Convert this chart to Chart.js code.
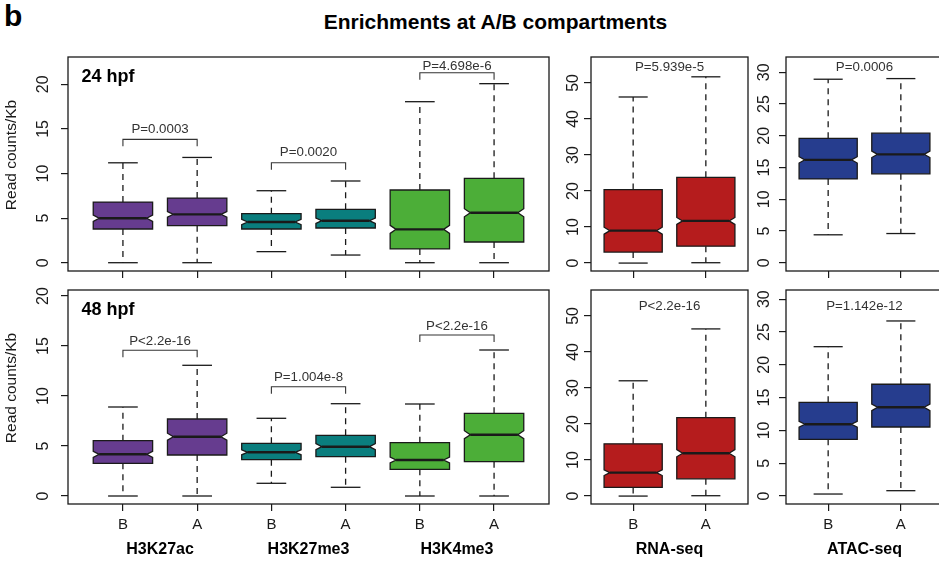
<!DOCTYPE html>
<html>
<head>
<meta charset="utf-8">
<script src="https://cdn.jsdelivr.net/npm/chart.js@4.4.0/dist/chart.umd.min.js"></script>
<style>
  html, body { margin: 0; padding: 0; background: #fff; overflow: hidden; width: 939px; height: 563px; position: relative; }
  canvas { position: absolute; }
  .txt { position: absolute; font-family: "Liberation Sans", Arial, Helvetica, sans-serif; font-weight: bold; color: #000; white-space: nowrap; }
</style>
</head>
<body>
<div class="txt" style="left:4px; top:1px; font-size:30px; line-height:30px;">b</div>
<div class="txt" style="left:0; width:991px; text-align:center; top:11px; font-size:21px; line-height:21px;">Enrichments at A/B compartments</div>

<canvas id="hist24"></canvas>
<canvas id="rna24"></canvas>
<canvas id="atac24"></canvas>
<canvas id="hist48"></canvas>
<canvas id="rna48"></canvas>
<canvas id="atac48"></canvas>

<script>
// ---- categories and tick labels ----
const compartments = ['B', 'A'];
const marks = ['H3K27ac', 'H3K27me3', 'H3K4me3'];
const rnaName = ['RNA-seq'];
const atacName = ['ATAC-seq'];
const histTicks = [0, 5, 10, 15, 20];
const rnaTicks = [0, 10, 20, 30, 40, 50];
const atacTicks = [0, 5, 10, 15, 20, 25, 30];

// ---- 24 hpf, histone marks (B, A for each mark) ----
const h24Low   = [0, 0, 1.24, 0.86, 0, 0];
const h24Q1    = [3.78, 4.15, 3.78, 3.89, 1.54, 2.32];
const h24Med   = [4.98, 5.42, 4.56, 4.71, 3.74, 5.60];
const h24Q3    = [6.80, 7.25, 5.50, 5.98, 8.15, 9.46];
const h24High  = [11.2, 11.8, 8.07, 9.16, 18.05, 20.07];
const h24Notch = [0.35, 0.32, 0.3, 0.3, 0.45, 0.45];
const h24P     = ['P=0.0003', 'P=0.0020', 'P=4.698e-6'];
const h24Bracket = [13.83, 11.2, 21.3];
const h24PY    = [14.96, 12.33, 22.05];

// ---- 48 hpf, histone marks ----
const h48Low   = [0, 0, 1.27, 0.87, 0, 0];
const h48Q1    = [3.27, 4.10, 3.63, 3.93, 2.67, 3.43];
const h48Med   = [4.17, 5.93, 4.37, 4.93, 3.60, 6.13];
const h48Q3    = [5.53, 7.70, 5.27, 6.07, 5.33, 8.27];
const h48High  = [8.90, 13.07, 7.77, 9.23, 9.20, 14.6];
const h48Notch = [0.3, 0.35, 0.25, 0.3, 0.3, 0.4];
const h48P     = ['P<2.2e-16', 'P=1.004e-8', 'P<2.2e-16'];
const h48Bracket = [14.57, 10.93, 16.1];
const h48PY    = [15.5, 11.87, 17.0];

// ---- RNA-seq ----
const rna24Low = [0, 0.1],   rna24Q1 = [3.06, 4.7], rna24Med = [9.0, 11.7], rna24Q3 = [20.4, 23.8], rna24High = [46.1, 51.7];
const rna24Notch = [0.95, 0.95];
const rna24P = ['P=5.939e-5'];
const rna24PY = [54.3];
const rna48Low = [0, 0.1],   rna48Q1 = [2.4, 4.8],  rna48Med = [6.5, 11.9], rna48Q3 = [14.5, 21.75], rna48High = [32.0, 46.4];
const rna48Notch = [0.8, 1.0];
const rna48P = ['P<2.2e-16'];
const rna48PY = [52.6];

// ---- ATAC-seq ----
const atac24Low = [4.4, 4.6],  atac24Q1 = [13.2, 14.0], atac24Med = [16.2, 17.07], atac24Q3 = [19.6, 20.4], atac24High = [28.9, 29.0];
const atac24Notch = [0.5, 0.5];
const atac24P = ['P=0.0006'];
const atac24PY = [30.8];
const atac48Low = [0.3, 0.81], atac48Q1 = [8.64, 10.52], atac48Med = [10.93, 13.52], atac48Q3 = [14.28, 17.03], atac48High = [22.76, 26.68];
const atac48Notch = [0.45, 0.5];
const atac48P = ['P=1.142e-12'];
const atac48PY = [28.86];

// ---- styling ----
const FONT = '"Liberation Sans", Arial, Helvetica, sans-serif';
Chart.defaults.font.family = FONT;
const PURPLE = '#663c8f', TEAL = '#0a7e7e', GREEN = '#4cae38', RED = '#b51c1d', BLUE = '#263d8e';
const INK = '#1a1a1a';

// notched box plots, p-value annotations and the panel frame
const boxPlotPlugin = {
  id: 'boxPlots',
  afterDraw(chart, args, o) {
    const { ctx, chartArea: a } = chart;
    const x = chart.scales.x, y = chart.scales.y;
    const st = o.stats;
    ctx.save();
    const seg = (x1, y1, x2, y2) => { ctx.beginPath(); ctx.moveTo(x1, y1); ctx.lineTo(x2, y2); ctx.stroke(); };

    st.med.forEach((m, i) => {
      const pos = i + 1;
      const cx = x.getPixelForValue(pos);
      const w = x.getPixelForValue(pos + 0.4) - cx;
      const cap = w * 0.5, nf = w * 0.8;
      const pLo = y.getPixelForValue(st.low[i]);
      const pQ1 = y.getPixelForValue(st.q1[i]);
      const pMed = y.getPixelForValue(m);
      const pQ3 = y.getPixelForValue(st.q3[i]);
      const pHi = y.getPixelForValue(st.high[i]);
      const pNlo = y.getPixelForValue(m - st.notch[i]);
      const pNhi = y.getPixelForValue(m + st.notch[i]);

      ctx.strokeStyle = INK;
      ctx.lineWidth = 1.3;
      ctx.setLineDash([6, 5]);
      seg(cx, pQ3, cx, pHi);
      seg(cx, pQ1, cx, pLo);
      ctx.setLineDash([]);
      seg(cx - cap, pHi, cx + cap, pHi);
      seg(cx - cap, pLo, cx + cap, pLo);

      ctx.beginPath();
      ctx.moveTo(cx - w, pQ1);
      ctx.lineTo(cx + w, pQ1);
      ctx.lineTo(cx + w, pNlo);
      ctx.lineTo(cx + nf, pMed);
      ctx.lineTo(cx + w, pNhi);
      ctx.lineTo(cx + w, pQ3);
      ctx.lineTo(cx - w, pQ3);
      ctx.lineTo(cx - w, pNhi);
      ctx.lineTo(cx - nf, pMed);
      ctx.lineTo(cx - w, pNlo);
      ctx.closePath();
      ctx.fillStyle = o.colors[i];
      ctx.fill();
      ctx.stroke();

      ctx.lineWidth = 2.4;
      seg(cx - nf, pMed, cx + nf, pMed);
    });

    // p-values
    ctx.font = '13.3px ' + FONT;
    ctx.fillStyle = '#333';
    ctx.strokeStyle = '#333';
    ctx.lineWidth = 1.1;
    ctx.textAlign = 'center';
    ctx.textBaseline = 'middle';
    (o.pvals || []).forEach(p => {
      const x1 = x.getPixelForValue(p.x1), x2 = x.getPixelForValue(p.x2);
      if (p.bracket != null) {
        const pb = y.getPixelForValue(p.bracket);
        ctx.beginPath();
        ctx.moveTo(x1, pb + 7); ctx.lineTo(x1, pb); ctx.lineTo(x2, pb); ctx.lineTo(x2, pb + 7);
        ctx.stroke();
      }
      ctx.fillText(p.text, (x1 + x2) / 2, y.getPixelForValue(p.y));
    });

    // stage label
    if (o.stage) {
      ctx.font = 'bold 18px ' + FONT;
      ctx.fillStyle = '#000';
      ctx.textAlign = 'left';
      ctx.fillText(o.stage, a.left + 13.5, a.top + 20.5);
    }

    // y axis title
    if (o.yTitle) {
      ctx.save();
      ctx.font = '15.5px ' + FONT;
      ctx.fillStyle = INK;
      ctx.textAlign = 'center';
      ctx.textBaseline = 'middle';
      ctx.translate(12, (a.top + a.bottom) / 2 - 9);
      ctx.rotate(-Math.PI / 2);
      ctx.fillText(o.yTitle, 0, 0);
      ctx.restore();
    }

    // frame
    ctx.strokeStyle = INK;
    ctx.lineWidth = 1.3;
    ctx.strokeRect(a.left, a.top, a.right - a.left, a.bottom - a.top);
    ctx.restore();
  }
};

function makePanel(id, g, d) {
  const cv = document.getElementById(id);
  cv.width = g.width; cv.height = g.height;
  cv.style.left = g.left + 'px'; cv.style.top = g.top + 'px';
  const yW = g.areaLeft - g.left;
  const xH = g.xHeight;
  const positions = d.stats.med.map((_, i) => i + 1);
  const noPad = s => { s.paddingTop = 0; s.paddingBottom = 0; s.paddingLeft = 0; s.paddingRight = 0; };
  const scales = {
    x: {
      type: 'linear', min: d.xMin, max: d.xMax, position: 'bottom', weight: 0,
      afterBuildTicks: s => { s.ticks = positions.map(v => ({ value: v })); },
      afterFit: s => { s.height = xH; noPad(s); },
      grid: { display: true, drawOnChartArea: false, drawTicks: true, tickLength: 7, color: INK, lineWidth: 1.2 },
      border: { display: false },
      ticks: {
        autoSkip: false, maxRotation: 0, minRotation: 0, padding: 5, color: INK,
        font: { size: 15 },
        callback: (v, i) => d.showX ? compartments[i % 2] : ''
      }
    },
    y: {
      type: 'linear', min: d.yMin, max: d.yMax,
      afterBuildTicks: s => { s.ticks = d.yTicks.map(v => ({ value: v })); },
      afterFit: s => { s.width = yW; noPad(s); },
      grid: { display: true, drawOnChartArea: false, drawTicks: true, tickLength: 7, color: INK, lineWidth: 1.2 },
      border: { display: false },
      ticks: {
        minRotation: 90, maxRotation: 90, crossAlign: 'center', padding: g.yPad, color: INK,
        font: { size: 16 },
        callback: v => String(v)
      }
    }
  };
  if (d.showX) {
    scales.x2 = {
      type: 'linear', min: d.xMin, max: d.xMax, position: 'bottom', weight: 1,
      afterBuildTicks: s => { s.ticks = d.groupNames.map((_, i) => ({ value: 2 * i + 1.5 })); },
      afterFit: s => { s.height = g.groupHeight; noPad(s); },
      grid: { display: false, drawTicks: false },
      border: { display: false },
      ticks: {
        autoSkip: false, maxRotation: 0, minRotation: 0, padding: 3, color: '#000',
        font: { size: 16, weight: 'bold' },
        callback: (v, i) => d.groupNames[i]
      }
    };
  }
  new Chart(cv, {
    type: 'scatter',
    data: { datasets: [] },
    options: {
      responsive: false, animation: false, devicePixelRatio: 1,
      layout: { padding: { top: g.areaTop - g.top, right: g.left + g.width - g.areaRight, left: 0, bottom: 0 } },
      plugins: {
        legend: { display: false }, tooltip: { enabled: false },
        boxPlots: { stats: d.stats, colors: d.colors, pvals: d.pvals, stage: d.stage, yTitle: d.yTitle }
      },
      scales
    },
    plugins: [boxPlotPlugin]
  });
}

// ---- panel geometry ----
const colHist = { left: 0, width: 552, areaLeft: 68, areaRight: 549, yPad: 9 };
const colRna  = { left: 553, width: 199, areaLeft: 591, areaRight: 748, yPad: 2 };
const colAtac = { left: 752, width: 200, areaLeft: 786, areaRight: 943, yPad: 6 };
const rowTop    = { top: 38, height: 245, areaTop: 57, xHeight: 12 };
const rowBottom = { top: 272, height: 291, areaTop: 290, xHeight: 33, groupHeight: 26 };

const histColors = [PURPLE, PURPLE, TEAL, TEAL, GREEN, GREEN];
const histBrackets = (texts, heights, ys) => texts.map((t, i) => ({ text: t, x1: 2 * i + 1, x2: 2 * i + 2, y: ys[i], bracket: heights[i] }));
const singleP = (texts, ys) => texts.map((t, i) => ({ text: t, x1: 1, x2: 2, y: ys[i], bracket: null }));

makePanel('hist24', { ...colHist, ...rowTop }, {
  xMin: 0.26, xMax: 6.74, yMin: -0.93, yMax: 23.06, yTicks: histTicks, showX: false,
  stats: { low: h24Low, q1: h24Q1, med: h24Med, q3: h24Q3, high: h24High, notch: h24Notch },
  colors: histColors, pvals: histBrackets(h24P, h24Bracket, h24PY), stage: '24 hpf', yTitle: 'Read counts/Kb'
});
makePanel('rna24', { ...colRna, ...rowTop }, {
  xMin: 0.42, xMax: 2.58, yMin: -2.2, yMax: 57.2, yTicks: rnaTicks, showX: false,
  stats: { low: rna24Low, q1: rna24Q1, med: rna24Med, q3: rna24Q3, high: rna24High, notch: rna24Notch },
  colors: [RED, RED], pvals: singleP(rna24P, rna24PY)
});
makePanel('atac24', { ...colAtac, ...rowTop }, {
  xMin: 0.42, xMax: 2.58, yMin: -1.3, yMax: 32.4, yTicks: atacTicks, showX: false,
  stats: { low: atac24Low, q1: atac24Q1, med: atac24Med, q3: atac24Q3, high: atac24High, notch: atac24Notch },
  colors: [BLUE, BLUE], pvals: singleP(atac24P, atac24PY)
});
makePanel('hist48', { ...colHist, ...rowBottom }, {
  xMin: 0.26, xMax: 6.74, yMin: -0.8, yMax: 20.6, yTicks: histTicks, showX: true, groupNames: marks,
  stats: { low: h48Low, q1: h48Q1, med: h48Med, q3: h48Q3, high: h48High, notch: h48Notch },
  colors: histColors, pvals: histBrackets(h48P, h48Bracket, h48PY), stage: '48 hpf', yTitle: 'Read counts/Kb'
});
makePanel('rna48', { ...colRna, ...rowBottom }, {
  xMin: 0.42, xMax: 2.58, yMin: -2.2, yMax: 57.2, yTicks: rnaTicks, showX: true, groupNames: rnaName,
  stats: { low: rna48Low, q1: rna48Q1, med: rna48Med, q3: rna48Q3, high: rna48High, notch: rna48Notch },
  colors: [RED, RED], pvals: singleP(rna48P, rna48PY)
});
makePanel('atac48', { ...colAtac, ...rowBottom }, {
  xMin: 0.42, xMax: 2.58, yMin: -1.22, yMax: 31.4, yTicks: atacTicks, showX: true, groupNames: atacName,
  stats: { low: atac48Low, q1: atac48Q1, med: atac48Med, q3: atac48Q3, high: atac48High, notch: atac48Notch },
  colors: [BLUE, BLUE], pvals: singleP(atac48P, atac48PY)
});
</script>
</body>
</html>
